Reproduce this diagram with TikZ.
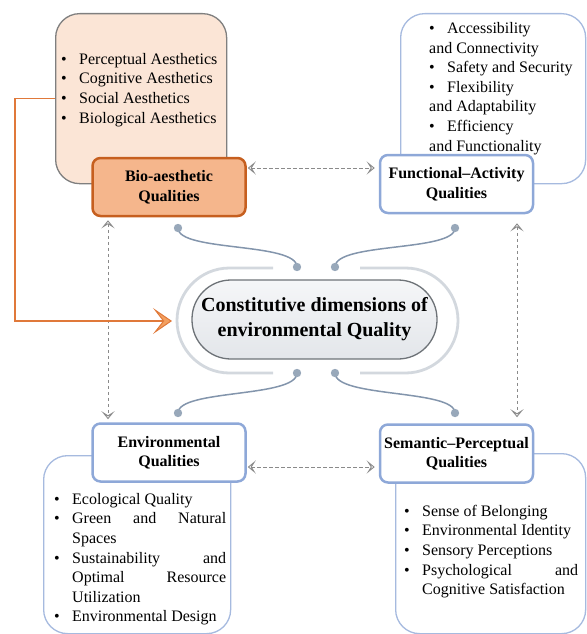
\documentclass[tikz,border=0pt]{standalone}
\usepackage{fontspec}
\setmainfont{Liberation Serif}
\usetikzlibrary{arrows.meta,positioning,calc}
\definecolor{peach}{HTML}{FBE5D6}
\definecolor{bioFill}{HTML}{F5B68C}
\definecolor{bioEdge}{HTML}{C65F1F}
\definecolor{linkOrange}{HTML}{E0793A}
\definecolor{chevFill}{HTML}{F3A060}
\definecolor{frameGray}{HTML}{7F7F7F}
\definecolor{qBlue}{HTML}{8EA8D8}
\definecolor{listBlue}{HTML}{A6BADF}
\definecolor{ringGray}{HTML}{D3D8DE}
\definecolor{coreTop}{HTML}{F5F6F8}
\definecolor{coreBot}{HTML}{E3E6EA}
\definecolor{coreEdge}{HTML}{6E7378}
\definecolor{stem}{HTML}{8395AC}
\definecolor{dotFill}{HTML}{98A8BA}
\definecolor{dashGray}{HTML}{8A8A8A}
\newcommand{\qitem}{\makebox[18pt][l]{\textbullet}}
\newcommand{\qcont}{\hspace*{18pt}}
\begin{document}
\begin{tikzpicture}[x=1pt,y=-1pt,
  listframe/.style={line width=1.3pt,rounded corners=24pt,anchor=north west,inner sep=0pt},
  qbox/.style={draw=qBlue,fill=white,line width=2.5pt,rounded corners=8pt,minimum width=153pt,
               minimum height=58pt,inner sep=2pt,align=center,font=\fontsize{16}{19.5}\selectfont\bfseries},
  items/.style={anchor=north west,inner sep=0pt,align=left,font=\fontsize{16}{19.6}\selectfont},
  core/.style={draw=coreEdge,line width=1.3pt,top color=coreTop,bottom color=coreBot,rounded corners=39pt,
               minimum width=245pt,minimum height=79pt,align=center,font=\fontsize{20}{25}\selectfont\bfseries},
  dsh/.style={draw=dashGray,line width=0.9pt,dash pattern=on 3.5pt off 2.5pt,
              {Stealth[open,length=8pt,width=13pt,inset=4pt]}-{Stealth[open,length=8pt,width=13pt,inset=4pt]}},
  ring/.style={draw=ringGray,line width=2.8pt},
  stemline/.style={draw=stem,line width=1.5pt},
  link/.style={draw=linkOrange,line width=1.5pt,
               -{Stealth[length=19pt,width=26pt,inset=10pt,fill=chevFill,line width=1pt]}}
]
\useasboundingbox (0,0) rectangle (586,634);
% list frames behind the quality boxes
\node[listframe,draw=frameGray,fill=peach,minimum width=171pt,minimum height=170pt] (bioList) at (55,13) {};
\node[listframe,draw=listBlue,fill=white,minimum width=185pt,minimum height=170pt] (funList) at (400,13) {};
\node[listframe,draw=listBlue,fill=white,minimum width=187pt,minimum height=178pt] (envList) at (43,455) {};
\node[listframe,draw=listBlue,fill=white,minimum width=190pt,minimum height=180pt] (semList) at (395,453) {};
\node[items] (bioItems) at (61,50.3) {\strut\qitem Perceptual Aesthetics\\
  \qitem Cognitive Aesthetics\\
  \qitem Social Aesthetics\\
  \qitem Biological Aesthetics};
\node[items] (funItems) at (429,19.5) {\strut\qitem Accessibility\\
  and Connectivity\\
  \qitem Safety and Security\\
  \qitem Flexibility\\
  and Adaptability\\
  \qitem Efficiency\\
  and Functionality};
\node[items] (envItems) at (54,490.3) {\strut\qitem Ecological Quality\\
  \qitem\makebox[154pt][s]{Green and Natural}\\
  \qcont Spaces\\
  \qitem\makebox[154pt][s]{Sustainability and}\\
  \qcont\makebox[154pt][s]{Optimal Resource}\\
  \qcont Utilization\\
  \qitem Environmental Design};
\node[items] (semItems) at (404,502.3) {\strut\qitem Sense of Belonging\\
  \qitem Environmental Identity\\
  \qitem Sensory Perceptions\\
  \qitem\makebox[156pt][s]{Psychological and}\\
  \qcont Cognitive Satisfaction};
% quality boxes
\node[qbox,draw=bioEdge,fill=bioFill] (bioQ) at (169,187) {Bio-aesthetic\\Qualities};
\node[qbox] (funQ) at (456.5,184) {Functional--Activity\\Qualities};
\node[qbox] (envQ) at (169,452.5) {Environmental\\Qualities};
\node[qbox] (semQ) at (456.5,453.5) {Semantic--Perceptual\\Qualities};
% centre
\draw[ring] (273,268) -- (229.5,268) arc[start angle=-90,end angle=-270,radius=52.5] -- (273,373);
\draw[ring] (360,268) -- (405.5,268) arc[start angle=-90,end angle=90,radius=52.5] -- (360,373);
\node[core] (core) at (314.5,319.5) {Constitutive dimensions of\\environmental Quality};
\coordinate (s1a) at (178,228); \coordinate (s1b) at (297,267);
\coordinate (s2a) at (455,228); \coordinate (s2b) at (335,267);
\coordinate (s3a) at (178,413); \coordinate (s3b) at (297,373);
\coordinate (s4a) at (455,413); \coordinate (s4b) at (335,373);
\draw[stemline] (s1a) .. controls +(0,24) and +(0,-25) .. (s1b);
\draw[stemline] (s2a) .. controls +(0,24) and +(0,-25) .. (s2b);
\draw[stemline] (s3a) .. controls +(0,-24) and +(0,25) .. (s3b);
\draw[stemline] (s4a) .. controls +(0,-24) and +(0,25) .. (s4b);
\foreach \d in {s1a,s1b,s2a,s2b,s3a,s3b,s4a,s4b}
  \fill[dotFill] (\d) circle (4.2pt);
% dashed links
\draw[dsh] ([xshift=1pt,yshift=19pt]bioQ.east) -- ([xshift=-4pt,yshift=16pt]funQ.west);
\draw[dsh] ([xshift=1pt,yshift=-14.5pt]envQ.east) -- ([xshift=-4pt,yshift=-13.5pt]semQ.west);
\draw[dsh] ([xshift=-61pt,yshift=-3pt]bioQ.south) -- ([xshift=-61pt,yshift=3pt]envQ.north);
\draw[dsh] ([xshift=60.5pt,yshift=-9pt]funQ.south) -- ([xshift=60.5pt,yshift=6pt]semQ.north);
% orange link into the centre
\coordinate (bioIn) at (172,321);
\draw[link] (bioList.west) -- ++(-40,0) |- (bioIn);
\end{tikzpicture}
\end{document}
